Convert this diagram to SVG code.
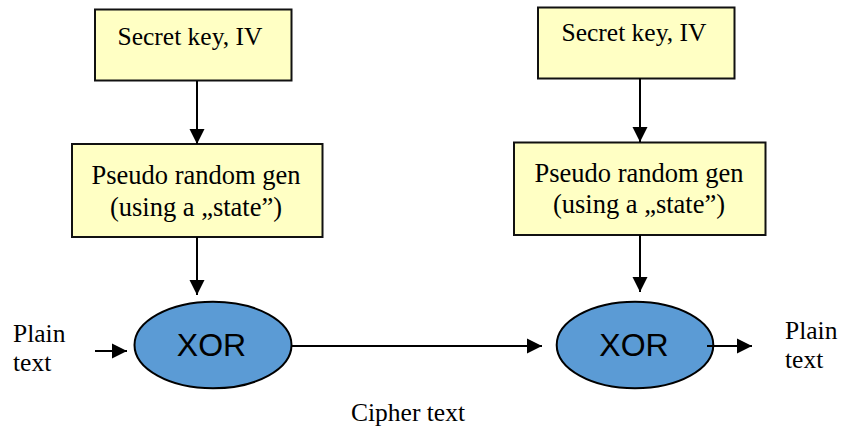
<svg xmlns="http://www.w3.org/2000/svg" width="841" height="427" viewBox="0 0 841 427">
<style>
.box{fill:#FFFFC4;stroke:#111;stroke-width:2}
.xor{fill:#5B9BD5;stroke:#000;stroke-width:2}
.t{font-family:"Liberation Serif",serif;font-size:25.5px;fill:#000}
.p{font-size:26.5px}
.x{font-family:"Liberation Sans",sans-serif;font-size:32px;fill:#000}
.c{stroke:#000;stroke-width:2;fill:none;marker-end:url(#ah)}
</style>
<defs>
<marker id="ah" markerUnits="userSpaceOnUse" markerWidth="16" markerHeight="16" viewBox="0 0 16 16" refX="15" refY="8" orient="auto">
<path d="M0,0.5 L15,8 L0,15.5 Z" fill="#000"/>
</marker>
</defs>
<rect width="841" height="427" fill="#fff"/>
<g id="key1">
<rect class="box" x="95" y="9.5" width="196.5" height="71"/>
<text class="t" x="190" y="45" text-anchor="middle">Secret key, IV</text>
</g>
<g id="prng1">
<rect class="box" x="72" y="144" width="250.5" height="93"/>
<text class="t p" x="196" y="184" text-anchor="middle">Pseudo random gen</text>
<text class="t p" x="196" y="216" text-anchor="middle">(using a „state”)</text>
</g>
<g id="xor1">
<ellipse class="xor" cx="213" cy="345" rx="78.5" ry="43.3"/>
<text class="x" x="211.5" y="356" text-anchor="middle">XOR</text>
</g>
<g id="plain1">
<text class="t" x="13" y="342">Plain</text>
<text class="t" x="13" y="371">text</text>
</g>
<g id="key2">
<rect class="box" x="538" y="7.5" width="196.5" height="71"/>
<text class="t" x="634" y="41" text-anchor="middle">Secret key, IV</text>
</g>
<g id="prng2">
<rect class="box" x="514" y="142.5" width="251.5" height="92.5"/>
<text class="t p" x="639" y="182" text-anchor="middle">Pseudo random gen</text>
<text class="t p" x="639" y="213" text-anchor="middle">(using a „state”)</text>
</g>
<g id="xor2">
<ellipse class="xor" cx="635" cy="345" rx="78.3" ry="43.3"/>
<text class="x" x="634" y="356" text-anchor="middle">XOR</text>
</g>
<g id="plain2">
<text class="t" x="785" y="339">Plain</text>
<text class="t" x="785" y="368">text</text>
</g>
<g id="cipher">
<text class="t" x="351" y="421">Cipher text</text>
</g>
<g id="connectors">
<line class="c" x1="197" y1="81" x2="197" y2="144"/>
<line class="c" x1="197" y1="237" x2="197" y2="295"/>
<line class="c" x1="640" y1="78" x2="640" y2="142"/>
<line class="c" x1="640" y1="235" x2="640" y2="292"/>
<line class="c" x1="95" y1="351" x2="127" y2="351"/>
<line class="c" x1="291" y1="346" x2="542" y2="346"/>
<line class="c" x1="707" y1="346" x2="752" y2="346"/>
</g>
</svg>
